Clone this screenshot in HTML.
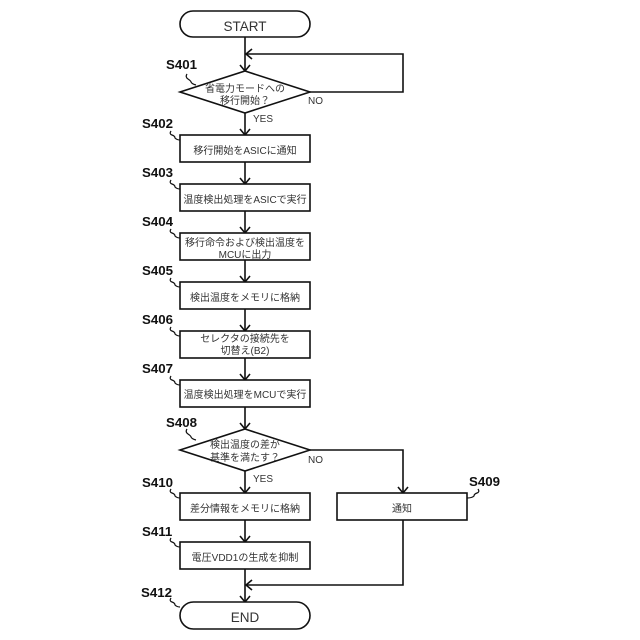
<!DOCTYPE html>
<html><head><meta charset="utf-8"><style>html,body{margin:0;padding:0;background:#fff}svg{display:block}
text{font-family:"Liberation Sans","Noto Sans CJK JP",sans-serif;fill:#333}
.t{font-size:10px;text-anchor:middle}
.b{font-size:13.5px;text-anchor:middle}
.l{font-size:13.3px;font-weight:bold;fill:#111}
.y{font-size:10px}
.s{fill:#fff;stroke:#111;stroke-width:1.6}
.c{fill:none;stroke:#111;stroke-width:1.6}
.q{fill:none;stroke:#111;stroke-width:1.2}
</style></head><body>
<svg width="640" height="640" viewBox="0 0 640 640" xmlns="http://www.w3.org/2000/svg">
<path class="c" d="M245 37V71M245 113V135M245 162V184M245 211V233M245 260V282M245 309V331M245 358V380M245 407V429M245 471V493M245 520V542M245 569V602M310 92H403V54H246M310 450H403V493M403 520V585H246"/>
<path class="c" d="M240 65L245 71L250 65M240 129L245 135L250 129M240 178L245 184L250 178M240 227L245 233L250 227M240 276L245 282L250 276M240 325L245 331L250 325M240 374L245 380L250 374M240 423L245 429L250 423M240 487L245 493L250 487M240 536L245 542L250 536M240 596L245 602L250 596M398 487L403 493L408 487M252 49L246 54L252 59M252 580L246 585L252 590"/>
<rect class="s" x="180" y="11" width="130" height="26" rx="13"/>
<rect class="s" x="180" y="602" width="130" height="27" rx="13.5"/>
<polygon class="s" points="245,71 310,92 245,113 180,92"/>
<polygon class="s" points="245,429 310,450 245,471 180,450"/>
<rect class="s" x="180" y="135" width="130" height="27"/>
<rect class="s" x="180" y="184" width="130" height="27"/>
<rect class="s" x="180" y="233" width="130" height="27"/>
<rect class="s" x="180" y="282" width="130" height="27"/>
<rect class="s" x="180" y="331" width="130" height="27"/>
<rect class="s" x="180" y="380" width="130" height="27"/>
<rect class="s" x="180" y="493" width="130" height="27"/>
<rect class="s" x="180" y="542" width="130" height="27"/>
<rect class="s" x="337" y="493" width="130" height="27"/>
<text class="b" x="245" y="31">START</text>
<text class="b" x="245" y="622">END</text>
<text class="t" x="245" y="92">省電力モードへの</text>
<text class="t" x="245" y="104">移行開始？</text>
<text class="t" x="245" y="154">移行開始をASICに通知</text>
<text class="t" x="245" y="203">温度検出処理をASICで実行</text>
<text class="t" x="245" y="246">移行命令および検出温度を</text>
<text class="t" x="245" y="258">MCUに出力</text>
<text class="t" x="245" y="301">検出温度をメモリに格納</text>
<text class="t" x="245" y="342">セレクタの接続先を</text>
<text class="t" x="245" y="354">切替え(B2)</text>
<text class="t" x="245" y="398">温度検出処理をMCUで実行</text>
<text class="t" x="245" y="448">検出温度の差が</text>
<text class="t" x="245" y="461">基準を満たす？</text>
<text class="t" x="245" y="512">差分情報をメモリに格納</text>
<text class="t" x="245" y="561">電圧VDD1の生成を抑制</text>
<text class="t" x="402" y="512">通知</text>
<text class="y" x="308" y="104">NO</text>
<text class="y" x="253" y="122">YES</text>
<text class="y" x="308" y="463">NO</text>
<text class="y" x="253" y="482">YES</text>
<text class="l" x="166" y="69">S401</text>
<text class="l" x="142" y="128">S402</text>
<text class="l" x="142" y="177">S403</text>
<text class="l" x="142" y="226">S404</text>
<text class="l" x="142" y="275">S405</text>
<text class="l" x="142" y="324">S406</text>
<text class="l" x="142" y="373">S407</text>
<text class="l" x="166" y="427">S408</text>
<text class="l" x="142" y="487">S410</text>
<text class="l" x="142" y="536">S411</text>
<text class="l" x="141" y="597">S412</text>
<text class="l" x="469" y="486">S409</text>
<path class="q" d="M187 74q-2 3 1 5t3 3q1 2 5 3M171 131q-2 3 1 4t3 3q2 2 5 2M171 180q-2 3 1 4t3 3q2 2 5 2M171 229q-2 3 1 4t3 3q2 2 5 2M171 278q-2 3 1 4t3 3q2 2 5 2M171 327q-2 3 1 4t3 3q2 2 5 2M171 376q-2 3 1 4t3 3q2 2 5 2M187 429q-2 3 1 5t3 3q1 2 5 3M171 489q-2 3 1 4t3 3q2 2 5 2M171 538q-2 3 1 4t3 3q2 2 5 2M171 598q-2 3 1 4t3 3q2 2 5 2M478 489q2 3 -1 4t-3 3q-2 2 -7 2"/>
</svg>
</body></html>
